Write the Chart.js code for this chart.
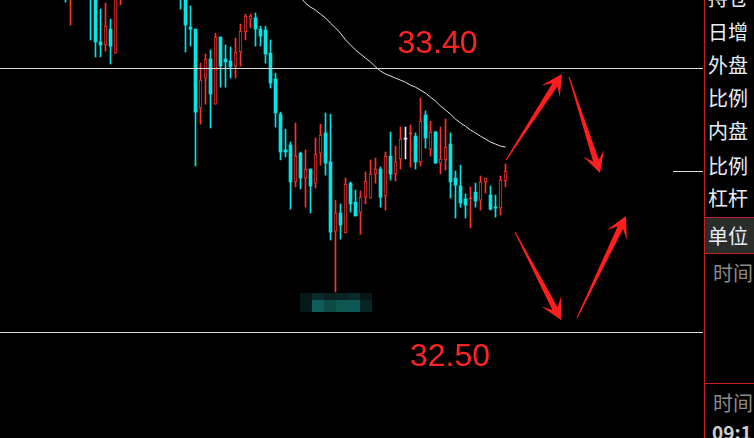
<!DOCTYPE html>
<html>
<head>
<meta charset="utf-8">
<script src="https://cdn.jsdelivr.net/npm/chart.js@4.4.1/dist/chart.umd.min.js"></script>
<style>
  html, body { margin: 0; padding: 0; background: #000; overflow: hidden; }
  #wrap { position: absolute; left: 0; top: 0; width: 703px; height: 438px; }
  #side { position: absolute; left: 704px; top: 0; width: 49px; height: 438px;
          border-left: 1px solid #c81e1e; font-family: "Noto Sans CJK SC", sans-serif; }
  #side div { position: absolute; left: 0; font-size: 20px; line-height: 20px; white-space: nowrap; }
  .item { padding-left: 3px; color: #e8eef8; }
  .gray { padding-left: 8px; color: #8c8c8c; }
  .rule { width: 50px; height: 1px; background: #c81e1e; }
  .unit { width: 49px; height: 35px; background: #2a2d2a; }
</style>
</head>
<body>
<div id="wrap"><canvas id="kline"></canvas></div>
<div id="side">
  <div class="item" style="top:-12px">持仓</div>
  <div class="item" style="top:22px">日增</div>
  <div class="item" style="top:55px">外盘</div>
  <div class="item" style="top:88px">比例</div>
  <div class="item" style="top:121px">内盘</div>
  <div class="item" style="top:156px">比例</div>
  <div class="item" style="top:188px">杠杆</div>
  <div class="rule" style="top:217px"></div>
  <div class="unit" style="top:218px"></div>
  <div class="item" style="top:226px">单位</div>
  <div class="rule" style="top:253px"></div>
  <div class="gray" style="top:263px">时间</div>
  <div class="rule" style="top:383px"></div>
  <div class="gray" style="top:393px">时间</div>
  <div class="gray" style="top:422px;font-size:19px;font-weight:bold;color:#cfcfcf;padding-left:7px">09:1</div>
</div>
<script>
// candle slot (5 px per bar), only bars that show up in the picture
const idx = [13, 14, 18, 19, 20, 21, 22, 23, 24,
  36, 37, 38, 39, 40, 41, 42, 43, 44, 45, 46, 47, 48, 49, 50, 51, 52, 53, 54, 55,
  56, 57, 58, 59, 60, 61, 62, 63, 64, 65, 66, 67, 68, 69, 70, 71, 72, 73, 74, 75,
  76, 77, 78, 79, 80, 81, 82, 83, 84, 85, 86, 87, 88, 89, 90, 91, 92, 93, 94, 95,
  96, 97, 98, 99, 100, 101];
const open = [33.72, 33.66, 33.70, 33.66, 33.492, 33.482, 33.536, 33.454, 33.65,
  33.70, 33.66, 33.543, 33.536, 33.267, 33.369, 33.434, 33.280, 33.509, 33.434, 33.427, 33.410, 33.458, 33.526, 33.570, 33.574, 33.536, 33.533, 33.454, 33.366,
  33.246, 33.124, 33.141, 33.015, 33.113, 33.028, 33.059, 33.011, 33.113, 33.182, 33.083, 32.847, 32.909, 32.841, 33.011, 32.946, 32.912, 32.963, 32.960, 33.042,
  33.059, 32.967, 33.103, 33.042, 33.093, 33.161, 33.178, 33.171, 33.083, 33.243, 33.127, 33.185, 33.079, 33.090, 33.144, 33.028, 33.001, 32.957, 32.957, 32.980,
  32.953, 33.015, 32.970, 32.929, 32.926, 33.018];
const high = [33.75, 33.72, 33.72, 33.68, 33.604, 33.625, 33.570, 33.68, 33.72,
  33.72, 33.68, 33.615, 33.536, 33.420, 33.451, 33.465, 33.522, 33.509, 33.482, 33.475, 33.505, 33.553, 33.587, 33.587, 33.591, 33.546, 33.546, 33.499, 33.386,
  33.253, 33.195, 33.151, 33.216, 33.117, 33.124, 33.059, 33.165, 33.212, 33.250, 33.246, 32.953, 32.940, 33.028, 33.015, 32.987, 32.984, 33.049, 33.090, 33.096,
  33.066, 33.117, 33.185, 33.137, 33.202, 33.202, 33.209, 33.182, 33.301, 33.257, 33.222, 33.188, 33.202, 33.229, 33.182, 33.052, 33.072, 32.974, 32.998, 33.011,
  33.035, 33.028, 33.001, 32.970, 33.035, 33.076];
const low = [33.628, 33.550, 33.499, 33.441, 33.441, 33.461, 33.417, 33.454, 33.618,
  33.604, 33.458, 33.478, 33.069, 33.212, 33.280, 33.199, 33.280, 33.338, 33.338, 33.369, 33.369, 33.410, 33.499, 33.540, 33.478, 33.478, 33.420, 33.335, 33.202,
  33.090, 33.100, 32.922, 32.998, 32.991, 32.929, 32.909, 32.994, 33.072, 33.038, 32.817, 32.640, 32.820, 32.841, 32.912, 32.899, 32.837, 32.940, 32.960, 33.011,
  32.929, 32.919, 33.021, 33.018, 33.059, 33.093, 33.066, 33.059, 33.069, 33.130, 33.103, 33.079, 33.042, 33.055, 32.960, 32.892, 32.929, 32.892, 32.858, 32.929,
  32.919, 32.977, 32.919, 32.895, 32.902, 32.998];
const close = [33.66, 33.70, 33.65, 33.492, 33.482, 33.546, 33.478, 33.66, 33.70,
  33.65, 33.550, 33.536, 33.253, 33.362, 33.434, 33.315, 33.509, 33.410, 33.424, 33.407, 33.458, 33.529, 33.580, 33.580, 33.536, 33.512, 33.451, 33.352, 33.250,
  33.117, 33.117, 33.015, 33.103, 33.028, 33.059, 33.001, 33.110, 33.175, 33.079, 32.844, 32.909, 32.868, 33.008, 32.940, 32.899, 32.963, 33.018, 33.042, 33.059,
  32.963, 33.103, 33.042, 33.083, 33.161, 33.161, 33.182, 33.083, 33.222, 33.165, 33.185, 33.079, 33.093, 33.134, 33.015, 33.004, 32.943, 32.936, 32.960, 32.950,
  33.015, 33.028, 32.922, 32.926, 33.021, 33.052];

// moving average (white curve)
const maIdx = [60, 61, 62, 63, 64, 65, 66, 67, 68, 69, 70, 71, 72, 73, 74, 75, 76, 77, 78, 79, 80,
  81, 82, 83, 84, 85, 86, 87, 88, 89, 90, 91, 92, 93, 94, 95, 96, 97, 98, 99, 100, 101];
const maVal = [33.644, 33.625, 33.611, 33.601, 33.587, 33.574, 33.556, 33.540, 33.522, 33.499, 33.482,
  33.465, 33.451, 33.437, 33.424, 33.407, 33.393, 33.383, 33.376, 33.369, 33.362,
  33.355, 33.345, 33.338, 33.328, 33.318, 33.304, 33.291, 33.274, 33.260, 33.246,
  33.229, 33.216, 33.205, 33.192, 33.182, 33.171, 33.161, 33.151, 33.144, 33.137, 33.134];

// drawn levels and their labels
const levels = [33.40, 32.50];
const labelSlot = [87.4, 89.9];
const labelDy = [-16, 33];

// hand-drawn arrows: [slot0, price0, slot1, price1], head at the second point
const arrows = [
  [101.1, 33.090, 112.3, 33.383],
  [113.7, 33.373, 119.9, 33.045],
  [102.9, 32.844, 112.1, 32.544],
  [115.3, 32.551, 125.1, 32.899]
];

// pixelated watermark under the lows
const mosaicSlots = [59.9, 62.3, 64.7, 67.1, 69.5, 71.9, 74.3];
const mosaicRows = [32.636, 32.612, 32.571];
const mosaicUpper = ['#061818', '#0a2c2c', '#082020', '#082424', '#0a2a2a', '#061616'];
const mosaicLower = ['#061a1a', '#0f5a5a', '#0c4a46', '#0e5850', '#0f5656', '#082626'];

const RED = '#ff3232';
const CYAN = '#00e5e5';
const WHITE = '#f0f0f0';

function tone(i) {
  if (close[i] > open[i]) return RED;
  if (close[i] < open[i]) return CYAN;
  return WHITE;
}

function drawArrow(ctx, x0, y0, x1, y1) {
  const dx = x1 - x0, dy = y1 - y0, len = Math.hypot(dx, dy);
  const ux = dx / len, uy = dy / len, nx = -uy, ny = ux;
  const pts = [[13, 3], [21, 11], [0, 0], [21, -11], [13, -3]];
  ctx.beginPath();
  ctx.moveTo(x0 + nx * 0.5, y0 + ny * 0.5);
  pts.forEach(([b, s]) => ctx.lineTo(x1 - ux * b + nx * s, y1 - uy * b + ny * s));
  ctx.lineTo(x0 - nx * 0.5, y0 - ny * 0.5);
  ctx.closePath();
  ctx.fill();
}

const overlay = {
  id: 'overlay',
  beforeDatasetsDraw(chart) {
    const { ctx, scales: { x, y } } = chart;
    ctx.save();
    for (let c = 0; c < mosaicUpper.length; c++) {
      const l = Math.round(x.getPixelForValue(mosaicSlots[c]));
      const r = Math.round(x.getPixelForValue(mosaicSlots[c + 1]));
      const t = Math.round(y.getPixelForValue(mosaicRows[0]));
      const m = Math.round(y.getPixelForValue(mosaicRows[1]));
      const b = Math.round(y.getPixelForValue(mosaicRows[2]));
      ctx.fillStyle = mosaicUpper[c];
      ctx.fillRect(l, t, r - l, m - t);
      ctx.fillStyle = mosaicLower[c];
      ctx.fillRect(l, m, r - l, b - m);
    }
    ctx.restore();
  },
  afterDatasetsDraw(chart) {
    const { ctx, chartArea, scales: { x, y } } = chart;
    ctx.save();
    ctx.fillStyle = '#dcdcdc';
    levels.forEach(v => {
      ctx.fillRect(chartArea.left, Math.floor(y.getPixelForValue(v)), chartArea.right - chartArea.left, 1);
    });
    // last price tick at the right edge
    const last = Math.floor(y.getPixelForValue(close[close.length - 1]));
    ctx.fillRect(chartArea.right - 30, last, 30, 1);

    ctx.fillStyle = '#ff2424';
    ctx.font = '32px "Liberation Sans", Arial, sans-serif';
    ctx.textAlign = 'center';
    ctx.textBaseline = 'alphabetic';
    levels.forEach((v, i) => {
      ctx.fillText(v.toFixed(2), x.getPixelForValue(labelSlot[i]), y.getPixelForValue(v) + labelDy[i]);
    });

    ctx.fillStyle = '#ff1e1e';
    arrows.forEach(a => {
      drawArrow(ctx, x.getPixelForValue(a[0]), y.getPixelForValue(a[1]),
        x.getPixelForValue(a[2]), y.getPixelForValue(a[3]));
    });
    ctx.restore();
  }
};

new Chart(document.getElementById('kline'), {
  type: 'bar',
  data: {
    datasets: [{
      label: 'wick',
      data: idx.map((k, i) => ({ x: k, y: [low[i], high[i]] })),
      backgroundColor: c => tone(c.dataIndex),
      barThickness: 1,
      grouped: false,
      order: 3
    }, {
      label: 'body',
      data: idx.map((k, i) => ({ x: k, y: [open[i], close[i]] })),
      backgroundColor: c => {
        const i = c.dataIndex;
        if (close[i] > open[i] && close[i] - open[i] > 0.006) return '#000';
        return tone(i);
      },
      borderColor: c => tone(c.dataIndex),
      borderWidth: c => (close[c.dataIndex] > open[c.dataIndex] ? 1 : 0),
      borderSkipped: false,
      barThickness: 3,
      minBarLength: 1,
      grouped: false,
      order: 2
    }, {
      type: 'line',
      label: 'MA',
      data: maIdx.map((k, i) => ({ x: k, y: maVal[i] })),
      borderColor: '#e6e6e6',
      borderWidth: 1,
      pointRadius: 0,
      tension: 0,
      order: 1
    }]
  },
  options: {
    responsive: true,
    maintainAspectRatio: false,
    animation: false,
    events: [],
    layout: { padding: 0 },
    plugins: { legend: { display: false }, tooltip: { enabled: false } },
    scales: {
      x: { type: 'linear', min: -0.1, max: 140.5, offset: false, display: false },
      y: { min: 32.142, max: 33.6352, display: false }
    }
  },
  plugins: [overlay]
});
</script>
</body>
</html>
